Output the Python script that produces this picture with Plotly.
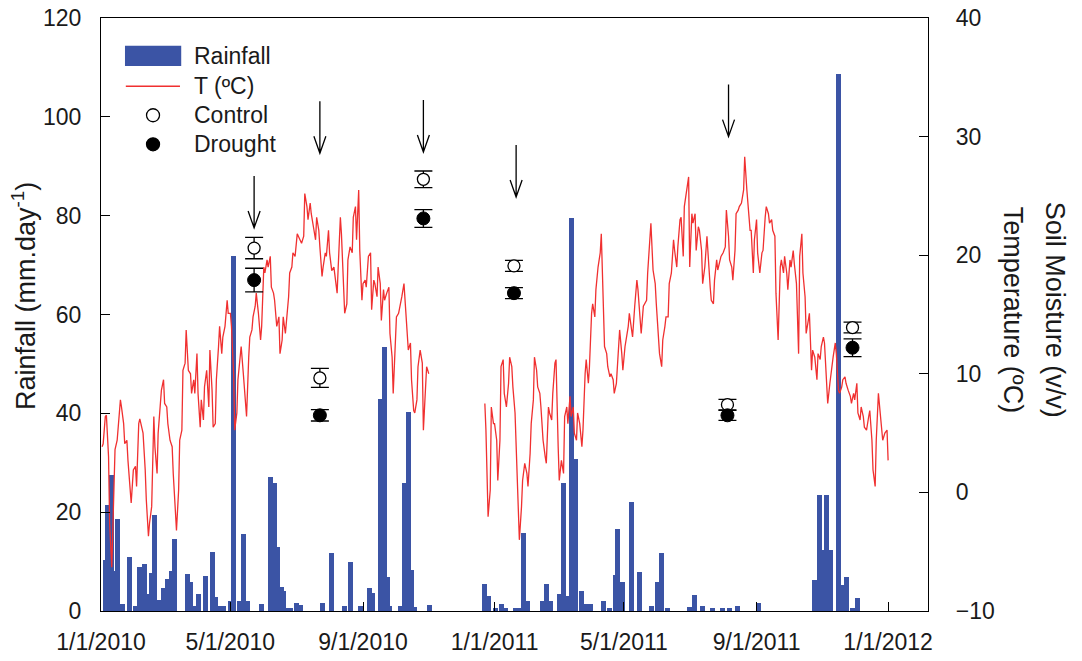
import plotly.graph_objects as go
import pandas as pd

BASE = pd.Timestamp("2010-01-01")

# ---------------- data (day offsets from 1/1/2010) ----------------
rain_day = [4, 6, 10, 12, 15, 20, 26, 32, 36, 40, 43, 46, 47, 50, 54, 58, 62, 65, 68,
            80, 83, 86, 90, 97, 103, 106, 110, 114, 120, 123, 128, 132, 136, 149,
            157, 161, 164, 167, 169, 172, 176, 181, 185, 205, 214, 226, 231, 241,
            249, 252, 259, 263, 266, 268, 278, 281, 285, 288, 291, 305,
            356, 359, 366, 371, 375, 384, 388, 392, 396, 409, 413, 417, 425, 429,
            433, 436, 440, 446, 450, 454, 466, 472, 477, 479, 484, 492, 499, 511,
            516, 520, 525, 546, 550, 558, 567, 576, 583, 590, 610,
            662, 666, 669, 673, 677, 684, 688, 691, 697, 702]
rain_mm = [10.3, 21.4, 27.5, 8.0, 18.6, 1.5, 11.0, 1.0, 9.0, 9.5, 3.5, 2.2, 7.7, 19.4, 2.2, 4.7, 6.5, 8.0, 14.6,
           7.5, 5.8, 1.0, 3.4, 7.1, 12.0, 2.9, 1.0, 1.0, 2.0, 71.8, 2.0, 15.5, 2.0, 1.5,
           27.1, 26.0, 13.0, 4.8, 4.0, 0.7, 0.7, 1.7, 1.2, 1.7, 11.7, 1.0, 10.0, 1.0,
           4.7, 3.7, 43.0, 53.5, 6.9, 1.0, 1.0, 26.0, 40.3, 8.3, 0.8, 1.3,
           5.5, 3.0, 0.7, 1.5, 0.7, 0.7, 0.7, 15.7, 2.0, 2.0, 5.5, 2.0, 3.4, 25.9,
           3.0, 79.6, 30.7, 4.0, 1.5, 1.5, 2.0, 0.7, 7.3, 16.6, 5.8, 22.0, 7.8, 1.0,
           5.8, 11.7, 0.7, 0.8, 3.2, 1.0, 0.7, 0.7, 0.6, 1.0, 1.7,
           6.3, 23.5, 12.3, 23.5, 12.3, 108.6, 5.3, 6.8, 0.7, 2.7]

t2010_day = [1, 2, 4, 5, 7, 8, 10, 11, 13, 15, 16, 18, 19, 21, 22, 24, 25, 27, 28, 30,
             32, 33, 35, 36, 38, 39, 41, 42, 44, 45, 47, 49, 50, 52, 53, 55, 56, 58, 59, 61,
             62, 64, 66, 67, 69, 70, 72, 73, 75, 76, 78, 79, 81, 83, 84, 86, 87, 89, 90, 92,
             93, 95, 96, 98, 100, 101, 103, 104, 106, 107, 109, 110, 112, 113, 115, 117, 118, 120, 121, 123,
             124, 126, 127, 129, 130, 132, 134, 135, 137, 138, 140, 141, 143, 144, 146, 148, 149, 151, 152, 154,
             155, 157, 158, 160, 161, 163, 165, 166, 168, 169, 171, 172, 174, 175, 177, 178, 180, 182, 183, 185,
             186, 188, 189, 191, 192, 194, 195, 197, 199, 200, 202, 203, 205, 206, 208, 209, 211, 212, 214, 216,
             217, 219, 220, 222, 223, 225, 226, 228, 229, 231, 233, 234, 236, 237, 239, 240, 242, 243, 245, 246,
             248, 250, 251, 253, 254, 256, 257, 259, 260, 262, 263, 265, 267, 268, 270, 271, 273, 274, 276, 277,
             279, 281, 282, 284, 285, 287, 288, 290, 291, 293, 294, 296, 298, 299, 301, 302, 304]
t2010_val = [3.85, 4.1, 6.4, 6.5, 3.0, -2.6, -6.3, -2.6, 3.6, 4.4, 5.8, 7.8, 7.2, 5.8, 4.1, 4.4, 2.7, 0.2, -0.9, 1.9,
             2.2, 0.5, 5.8, 6.2, 5.3, 5.0, 1.9, -0.6, -3.7, -2.6, -1.2, 6.4, 3.85, 1.6, 5.0, 8.1, 8.6, 9.5, 7.5, 7.2,
             5.8, 4.4, 3.85, 1.6, -2.05, -3.2, 0.2, 4.4, 5.25, 10.3, 10.9, 13.7, 10.3, 10.0, 8.35, 9.5, 8.35, 11.7, 8.35, 5.5,
             7.8, 6.1, 8.9, 10.3, 7.2, 12.0, 8.6, 5.5, 5.8, 9.5, 12.3, 14.0, 11.7, 13.1, 14.0, 16.2, 15.1, 15.1, 14.0, 10.0,
             5.25, 6.7, 9.5, 11.4, 12.3, 10.0, 7.2, 6.4, 11.4, 13.1, 13.7, 14.8, 15.7, 16.8, 15.1, 12.85, 14.0, 19.0, 18.5, 19.6,
             19.0, 19.9, 17.3, 16.8, 16.2, 14.0, 14.8, 11.7, 12.85, 14.8, 13.4, 14.5, 16.5, 18.5, 19.0, 20.2, 19.9, 21.8, 21.6, 21.3,
             21.0, 21.6, 25.2, 24.1, 23.0, 24.4, 23.5, 22.4, 21.3, 23.2, 22.1, 20.7, 18.2, 19.0, 20.2, 19.9, 22.1, 20.2, 18.7, 19.0,
             18.2, 16.8, 19.0, 23.2, 21.8, 17.3, 15.1, 15.9, 19.6, 20.7, 20.2, 23.2, 24.1, 21.3, 25.5, 20.4, 16.2, 17.6, 17.9, 17.3,
             19.9, 20.2, 15.4, 17.9, 17.6, 16.5, 19.0, 17.6, 14.5, 17.1, 16.2, 16.8, 17.3, 13.4, 11.4, 8.35, 12.6, 14.8, 15.1, 15.7,
             16.5, 17.6, 16.2, 12.85, 12.0, 12.6, 9.5, 6.9, 6.7, 7.8, 10.6, 12.0, 10.9, 5.25, 8.9, 10.6, 10.0]

t2011_day = [356, 357, 359, 361, 362, 364, 365, 367, 368, 370, 371, 373, 374, 376, 378, 379, 381, 382, 384, 385,
             387, 388, 390, 391, 393, 395, 396, 398, 399, 401, 402, 404, 405, 407, 408, 410, 412, 413, 415, 416,
             418, 419, 421, 422, 424, 425, 427, 429, 430, 432, 433, 435, 436, 438, 439, 441, 442, 444, 446, 447,
             449, 450, 452, 453, 455, 456, 458, 459, 461, 463, 464, 466, 467, 469, 470, 472, 473, 475, 476, 478,
             480, 481, 483, 484, 486, 487, 489, 490, 492, 493, 495, 497, 498, 500, 501, 503, 504, 506, 507, 509,
             510, 512, 514, 515, 517, 518, 520, 521, 523, 524, 526, 527, 529, 531, 532, 534, 535, 537, 538, 540,
             541, 543, 545, 546, 548, 549, 551, 552, 554, 555, 557, 558, 560, 562, 563, 565, 566, 568, 569, 571,
             572, 574, 575, 577, 579, 580, 582, 583, 585, 586, 588, 589, 591, 592, 594, 596, 597, 599, 600, 602,
             603, 605, 606, 608, 609, 611, 613, 614, 616, 617, 619, 620, 622, 623, 625, 626, 628, 630, 631, 633,
             634, 636, 637, 639, 640, 642, 643, 645, 647, 648, 650, 651, 653, 654, 656, 657, 659, 660, 662, 664,
             665, 667, 668, 670, 671, 673, 674, 676, 678, 679, 681, 682, 684, 685, 687, 688, 690, 691, 693, 695,
             696, 698, 699, 701, 702, 704, 705, 707, 708, 710, 712, 713, 715, 716, 718, 719, 721, 722, 724, 725,
             727, 729, 730]
t2011_val = [7.5, 5.25, -2.05, 0.2, 7.2, 5.8, 5.8, 4.4, 1.0, 4.4, 10.6, 11.2, 8.35, 7.2, 9.2, 11.4, 10.6, 8.9, 6.7, 3.85,
             -1.2, -4.0, -1.2, 1.0, 2.45, 1.6, 0.5, 3.3, 5.8, 7.8, 11.4, 10.3, 8.9, 8.35, 7.2, 4.4, 3.0, 2.45, 7.2, 6.7,
             6.1, 8.35, 10.9, 11.2, 3.85, 1.0, 2.7, 1.6, 6.4, 7.2, 5.8, 8.1, 6.4, 7.2, 5.0, 4.4, 6.7, 5.8, 3.85, 5.25,
             10.0, 11.2, 9.2, 10.6, 15.1, 15.9, 14.8, 17.1, 19.0, 20.2, 21.8, 15.7, 12.3, 11.7, 10.6, 9.75, 10.0, 9.5, 8.35, 9.2,
             12.3, 13.7, 11.7, 10.3, 12.3, 12.85, 14.0, 15.1, 14.0, 13.1, 15.7, 17.9, 17.1, 15.1, 13.4, 15.7, 15.9, 16.2, 18.5, 21.3,
             22.7, 18.75, 17.6, 15.9, 12.85, 11.7, 10.6, 12.85, 14.0, 14.8, 14.8, 17.6, 18.5, 21.3, 20.4, 19.0, 20.7, 23.0, 23.2, 19.9,
             24.1, 25.2, 26.6, 19.0, 23.5, 22.7, 23.5, 20.4, 22.4, 22.1, 20.4, 17.6, 19.0, 21.6, 19.9, 17.3, 16.2, 15.9, 17.9, 19.6,
             18.75, 19.6, 19.9, 20.2, 20.7, 23.8, 21.6, 19.6, 19.0, 17.9, 20.4, 23.5, 23.8, 24.1, 24.4, 25.5, 28.3, 25.5, 24.4, 22.1,
             22.1, 18.5, 21.3, 23.0, 20.2, 18.5, 20.2, 20.4, 23.2, 24.1, 23.5, 22.7, 23.0, 22.1, 21.6, 16.8, 12.85, 19.0, 19.6, 18.5,
             19.9, 18.5, 17.1, 19.6, 19.0, 20.4, 19.3, 17.6, 11.7, 19.9, 21.8, 18.5, 16.5, 13.4, 14.5, 15.1, 10.3, 12.0, 11.4, 9.5,
             11.7, 11.2, 12.3, 13.1, 12.6, 8.6, 7.5, 9.2, 10.9, 11.4, 12.6, 11.7, 8.6, 8.35, 8.9, 9.5, 9.75, 9.2, 8.6, 8.1,
             7.5, 8.35, 7.8, 9.2, 6.7, 6.1, 7.2, 6.4, 5.5, 5.25, 6.4, 6.9, 4.4, 1.9, 0.5, 4.4, 8.35, 7.2, 5.0, 4.4,
             5.0, 5.25, 2.7]

sm_day = [142, 203, 299, 383, 581, 697]
control = [20.6, 9.65, 26.4, 19.1, 7.4, 13.9]
control_err = [0.9, 0.8, 0.7, 0.46, 0.45, 0.45]
drought = [17.9, 6.5, 23.1, 16.8, 6.5, 12.2]
drought_err = [1.0, 0.48, 0.75, 0.46, 0.42, 0.75]

arrow_day = [142, 203, 299, 385, 582]
arrow_tip = [22.3, 28.6, 28.7, 24.9, 30.0]

tick_dates = ["2010-01-01", "2010-05-01", "2010-09-01", "2011-01-01",
              "2011-05-01", "2011-09-01", "2012-01-01"]
tick_text = ["1/1/2010", "5/1/2010", "9/1/2010", "1/1/2011",
             "5/1/2011", "9/1/2011", "1/1/2012"]


def to_dates(days):
    return [BASE + pd.Timedelta(days=d) for d in days]


BLUE = "#3b54a5"
RED = "#f03030"
FONT = "Liberation Sans, Arial, sans-serif"
TXT = "#1a1a1a"

fig = go.Figure()

fig.add_trace(go.Bar(
    x=to_dates(rain_day), y=rain_mm, width=4.6 * 86400000,
    marker=dict(color=BLUE, line=dict(width=0)), showlegend=False, yaxis="y"))

fig.add_trace(go.Scatter(
    x=to_dates(t2010_day), y=t2010_val, mode="lines",
    line=dict(color=RED, width=1.3), showlegend=False, yaxis="y2"))
fig.add_trace(go.Scatter(
    x=to_dates(t2011_day), y=t2011_val, mode="lines",
    line=dict(color=RED, width=1.3), showlegend=False, yaxis="y2"))

fig.add_trace(go.Scatter(
    x=to_dates(sm_day), y=control, mode="markers", yaxis="y2", showlegend=False,
    marker=dict(symbol="circle", size=12, color="white", line=dict(color="black", width=1.3)),
    error_y=dict(type="data", array=control_err, color="black", thickness=1.3, width=9)))
fig.add_trace(go.Scatter(
    x=to_dates(sm_day), y=drought, mode="markers", yaxis="y2", showlegend=False,
    marker=dict(symbol="circle", size=13, color="black", line=dict(color="black", width=1)),
    error_y=dict(type="data", array=drought_err, color="black", thickness=1.3, width=9)))

shapes = []
for d, tip in zip(arrow_day, arrow_tip):
    shapes.append(dict(
        type="path", xref="x", yref="y2", xsizemode="pixel", ysizemode="pixel",
        xanchor=(BASE + pd.Timedelta(days=d)).strftime("%Y-%m-%d"), yanchor=tip,
        path="M0,0 L0,52 M-6,17 L0,0 L6,17",
        line=dict(color="black", width=1.3)))

# manual legend (paper coordinates)
shapes.append(dict(type="rect", xref="paper", yref="paper",
                   x0=0.029, x1=0.097, y0=0.919, y1=0.953,
                   fillcolor=BLUE, line=dict(width=0)))
shapes.append(dict(type="line", xref="paper", yref="paper",
                   x0=0.030, x1=0.0955, y0=0.885, y1=0.885,
                   line=dict(color=RED, width=1.5)))
for yy, fill in [(0.836, "white"), (0.787, "black")]:
    shapes.append(dict(type="circle", xref="paper", yref="paper",
                       xsizemode="pixel", ysizemode="pixel",
                       xanchor=0.0629, yanchor=yy, x0=-6.5, x1=6.5, y0=-6.5, y1=6.5,
                       fillcolor=fill, line=dict(color="black", width=1.3)))

annotations = []
for yy, txt in [(0.9365, "Rainfall"), (0.885, "T (ºC)"), (0.836, "Control"), (0.787, "Drought")]:
    annotations.append(dict(xref="paper", yref="paper", x=0.110, y=yy, text=txt,
                            xanchor="left", yanchor="middle", showarrow=False,
                            font=dict(family=FONT, size=23, color=TXT)))

annotations.append(dict(xref="paper", yref="paper", x=-0.0931, y=0.531,
                        text="Rainfall (mm.day<sup>-1</sup>)", textangle=-90,
                        xanchor="center", yanchor="middle", showarrow=False,
                        font=dict(family=FONT, size=27, color=TXT)))
annotations.append(dict(xref="paper", yref="paper", x=1.1028, y=0.508,
                        text="Temperature (ºC)", textangle=90,
                        xanchor="center", yanchor="middle", showarrow=False,
                        font=dict(family=FONT, size=27, color=TXT)))
annotations.append(dict(xref="paper", yref="paper", x=1.1536, y=0.508,
                        text="Soil Moisture (v/v)", textangle=90,
                        xanchor="center", yanchor="middle", showarrow=False,
                        font=dict(family=FONT, size=27, color=TXT)))

axis_common = dict(showgrid=False, zeroline=False, showline=True, linecolor="black",
                   linewidth=1.3, ticks="inside", ticklen=9, tickwidth=1.3, tickcolor="black",
                   automargin=False, ticklabeloverflow="allow",
                   tickfont=dict(family=FONT, size=23, color=TXT))

# the page body adds an 8px offset; the figure is sized so the plot box lands
# at x 101..928, y 18..611 of the window
fig.update_layout(
    width=1074, height=653,
    margin=dict(l=93, r=154, t=10, b=50, autoexpand=False),
    paper_bgcolor="white", plot_bgcolor="white",
    bargap=0, showlegend=False,
    xaxis=dict(type="date", range=["2010-01-01", "2012-02-07"],
               tickvals=tick_dates, ticktext=tick_text, mirror=True,
               ticklabelstandoff=10, **axis_common),
    yaxis=dict(range=[0, 120], tickvals=[0, 20, 40, 60, 80, 100, 120], mirror=True,
               ticklabelstandoff=14, **axis_common),
    yaxis2=dict(range=[-10, 40], tickvals=[-10, 0, 10, 20, 30, 40], overlaying="y",
                side="right", ticklabelstandoff=22, **axis_common),
    shapes=shapes, annotations=annotations,
)

fig.write_html("out.html")
